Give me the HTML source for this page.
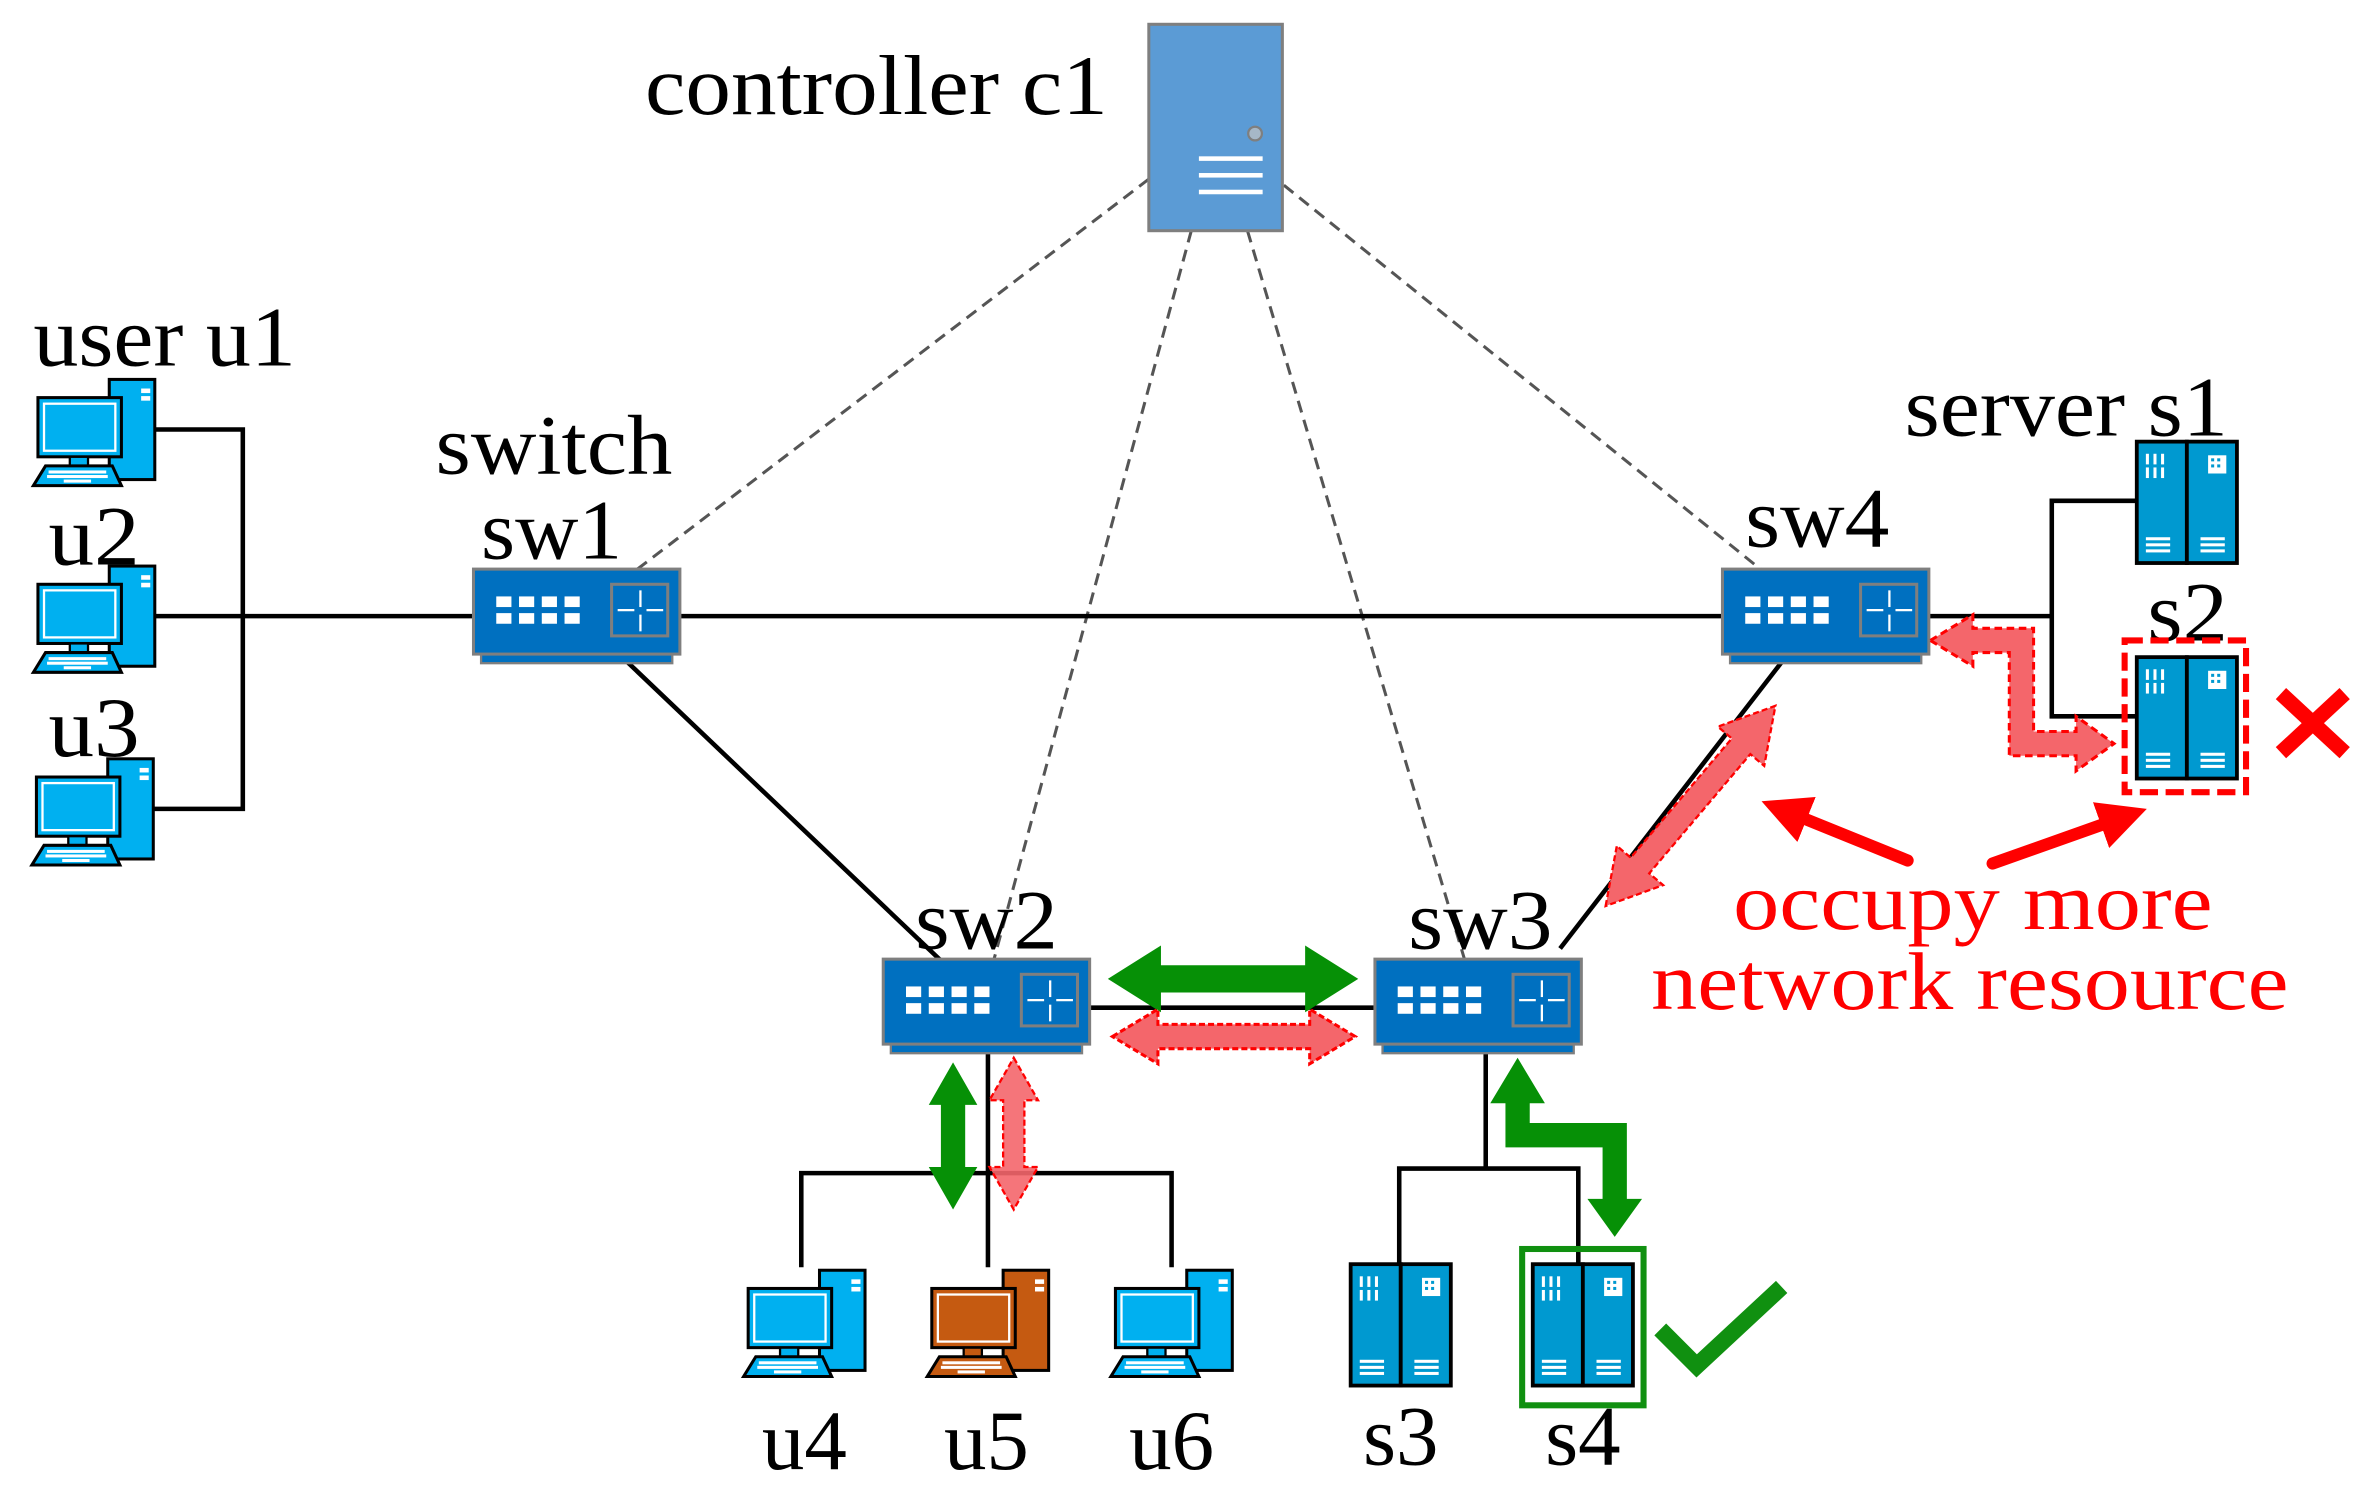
<!DOCTYPE html>
<html><head><meta charset="utf-8"><style>
html,body{margin:0;padding:0;background:#fff;}
svg{display:block;}
text{font-family:"Liberation Serif",serif;}
</style></head><body>
<svg width="2372" height="1507" viewBox="0 0 1563 993" xmlns="http://www.w3.org/2000/svg">
<defs>
<g id="pcbase">
  <rect x="50" y="0" width="30" height="66" stroke="#000" stroke-width="2"/>
  <rect x="71" y="6" width="6" height="3" fill="#fff"/>
  <rect x="71" y="11" width="6" height="3" fill="#fff"/>
  <rect x="3" y="12" width="55" height="39" stroke="#000" stroke-width="2"/>
  <rect x="7" y="16" width="47" height="31" fill="none" stroke="#fff" stroke-width="1.5"/>
  <rect x="24" y="51" width="12" height="6" stroke="#000" stroke-width="1.5"/>
  <polygon points="8,57 52,57 58,70 0,70" stroke="#000" stroke-width="2"/>
  <g fill="#fff"><rect x="10" y="60" width="38" height="2"/><rect x="9" y="63" width="40" height="2"/><rect x="20" y="66" width="18" height="2"/></g>
</g>
<g id="pc"><use href="#pcbase" fill="#00b0f0"/></g>
<g id="pco"><use href="#pcbase" fill="#c55a11"/></g>
<g id="srv">
  <rect x="0" y="0" width="33" height="80" fill="#0099d0" stroke="#000" stroke-width="2.5"/>
  <rect x="33" y="0" width="33" height="80" fill="#0099d0" stroke="#000" stroke-width="2.5"/>
  <g fill="#fff">
    <rect x="6" y="8" width="2" height="7"/><rect x="11" y="8" width="2" height="7"/><rect x="16" y="8" width="2" height="7"/>
    <rect x="6" y="17" width="2" height="7"/><rect x="11" y="17" width="2" height="7"/><rect x="16" y="17" width="2" height="7"/>
    <rect x="47" y="9" width="12" height="12"/>
    <rect x="6" y="63" width="16" height="2"/><rect x="6" y="67" width="16" height="2"/><rect x="6" y="71" width="16" height="2"/>
    <rect x="42" y="63" width="16" height="2"/><rect x="42" y="67" width="16" height="2"/><rect x="42" y="71" width="16" height="2"/>
  </g>
  <g fill="#0099d0"><rect x="49" y="11" width="2" height="2"/><rect x="53" y="11" width="2" height="2"/><rect x="49" y="15" width="2" height="2"/><rect x="53" y="15" width="2" height="2"/></g>
</g>
<g id="sw">
  <rect x="5" y="55" width="126" height="7" fill="#0070c0" stroke="#7f7f7f" stroke-width="1.5"/>
  <rect x="0" y="0" width="136" height="56" fill="#0070c0" stroke="#7f7f7f" stroke-width="2"/>
  <g fill="#fff">
    <rect x="15" y="18" width="10" height="7"/><rect x="30" y="18" width="10" height="7"/><rect x="45" y="18" width="10" height="7"/><rect x="60" y="18" width="10" height="7"/>
    <rect x="15" y="29" width="10" height="7"/><rect x="30" y="29" width="10" height="7"/><rect x="45" y="29" width="10" height="7"/><rect x="60" y="29" width="10" height="7"/>
  </g>
  <rect x="91" y="10" width="37" height="34" fill="none" stroke="#7f7f7f" stroke-width="2"/>
  <g stroke="#fff" stroke-width="1.5" fill="none">
    <line x1="110" y1="14" x2="110" y2="25"/><line x1="110" y1="30" x2="110" y2="41"/>
    <line x1="95" y1="27" x2="106" y2="27"/><line x1="114" y1="27" x2="125" y2="27"/>
  </g>
</g>
<marker id="ah" markerWidth="4" markerHeight="4" refX="1" refY="2" orient="auto" markerUnits="strokeWidth"><polygon points="0,0 4,2 0,4" fill="#f00"/></marker>
</defs>

<g stroke="#555" stroke-width="2" stroke-dasharray="8,5" fill="none">
  <line x1="757" y1="118" x2="420" y2="375"/>
  <line x1="785" y1="152" x2="655" y2="632"/>
  <line x1="822" y1="152" x2="965" y2="632"/>
  <line x1="846" y1="122" x2="1160" y2="375"/>
</g>

<rect x="757" y="16" width="88" height="136" fill="#5b9bd5" stroke="#7f7f7f" stroke-width="2"/>
<circle cx="827" cy="88" r="4.5" fill="#a6b8c8" stroke="#7f7f7f" stroke-width="1.5"/>
<g fill="#fff"><rect x="790" y="103" width="42" height="3"/><rect x="790" y="114" width="42" height="3"/><rect x="790" y="125" width="42" height="3"/></g>
<text x="425" y="75" font-size="56" textLength="305" lengthAdjust="spacingAndGlyphs">controller c1</text>

<g stroke="#000" stroke-width="3" fill="none">
  <polyline points="102,283 160,283 160,533 100,533"/>
  <line x1="102" y1="406" x2="312" y2="406"/>
  <line x1="446" y1="406" x2="1135" y2="406"/>
  <line x1="410" y1="433" x2="620" y2="633"/>
  <line x1="1175" y1="435" x2="1028" y2="625"/>
  <line x1="718" y1="664" x2="906" y2="664"/>
  <polyline points="1270,406 1352,406"/>
  <polyline points="1408,330 1352,330 1352,472 1408,472"/>
  <line x1="651" y1="688" x2="651" y2="835"/>
  <polyline points="528,835 528,773 772,773 772,835"/>
  <line x1="979" y1="688" x2="979" y2="770"/>
  <polyline points="922,833 922,770 1040,770 1040,833"/>
</g>
<use href="#pc" x="22" y="250"/>
<use href="#pc" x="22" y="373"/>
<use href="#pc" x="21" y="500"/>
<text x="22" y="241" font-size="56" textLength="173" lengthAdjust="spacingAndGlyphs">user u1</text>
<text x="32" y="372" font-size="56" textLength="60" lengthAdjust="spacingAndGlyphs">u2</text>
<text x="32" y="498" font-size="56" textLength="60" lengthAdjust="spacingAndGlyphs">u3</text>

<use href="#sw" x="312" y="375"/>
<use href="#sw" x="1135" y="375"/>
<use href="#sw" x="582" y="632"/>
<use href="#sw" x="906" y="632"/>
<text x="287" y="312" font-size="56" textLength="156" lengthAdjust="spacingAndGlyphs">switch</text>
<text x="317" y="368" font-size="56" textLength="93" lengthAdjust="spacingAndGlyphs">sw1</text>
<text x="1150" y="360" font-size="56" textLength="95" lengthAdjust="spacingAndGlyphs">sw4</text>
<text x="603" y="625" font-size="56" textLength="94" lengthAdjust="spacingAndGlyphs">sw2</text>
<text x="928" y="625" font-size="56" textLength="95" lengthAdjust="spacingAndGlyphs">sw3</text>

<text x="1255" y="287" font-size="56" textLength="213" lengthAdjust="spacingAndGlyphs">server s1</text>
<use href="#srv" x="1408" y="291"/>
<text x="1415" y="422" font-size="56" textLength="53" lengthAdjust="spacingAndGlyphs">s2</text>
<use href="#srv" x="1408" y="433"/>
<rect x="1400" y="422" width="80" height="100" fill="none" stroke="#f00" stroke-width="4" stroke-dasharray="12,5"/>
<g stroke="#f00" stroke-width="10"><line x1="1503" y1="457" x2="1545" y2="496"/><line x1="1545" y1="457" x2="1503" y2="496"/></g>

<use href="#pc" x="490" y="837"/>
<use href="#pco" x="611" y="837"/>
<use href="#pc" x="732" y="837"/>
<text x="530" y="968" font-size="56" text-anchor="middle">u4</text>
<text x="650" y="968" font-size="56" text-anchor="middle">u5</text>
<text x="772" y="968" font-size="56" text-anchor="middle">u6</text>
<use href="#srv" x="890" y="833"/>
<use href="#srv" x="1010" y="833"/>
<rect x="1003" y="823" width="80" height="103" fill="none" stroke="#109010" stroke-width="4"/>
<text x="923" y="965" font-size="56" text-anchor="middle">s3</text>
<text x="1043" y="965" font-size="56" text-anchor="middle">s4</text>
<polyline points="1094,876 1118,900 1174,848" fill="none" stroke="#109010" stroke-width="11"/>

<g transform="translate(730,645)"><polygon points="0,0 35,-22 35,-9 130,-9 130,-22 165,0 130,22 130,9 35,9 35,22" fill="#069006"/></g>
<g transform="translate(733,683)"><polygon points="0,0 30,-18 30,-8 130,-8 130,-18 160,0 130,18 130,8 30,8 30,18" fill="#f4666b" stroke="#f00" stroke-width="2" stroke-dasharray="4,2"/></g>
<g transform="translate(628,700) rotate(90)"><polygon points="0,0 28,-16 28,-8 69,-8 69,-16 97,0 69,16 69,8 28,8 28,16" fill="#069006"/></g>
<g transform="translate(668,697) rotate(90)"><polygon points="0,0 28,-16 28,-7 72,-7 72,-16 100,0 72,16 72,7 28,7 28,16" fill="#f4666b" fill-opacity="0.9" stroke="#f00" stroke-width="1.5" stroke-dasharray="4,2"/></g>
<g transform="translate(1058,597) rotate(-49.7)"><polygon points="0,0 35,-20 35,-8 138,-8 138,-20 173,0 138,20 138,8 35,8 35,20" fill="#f4666b" stroke="#f00" stroke-width="1.5" stroke-dasharray="4,2"/></g>
<polygon points="1000,697 1018,727 1008,727 1008,740 1072,740 1072,790 1082,790 1064,815 1046,790 1056,790 1056,756 992,756 992,727 982,727" fill="#069006"/>
<polygon points="1272,422 1300,405 1300,414 1340,414 1340,482 1368,482 1368,472 1393,490 1368,508 1368,498 1324,498 1324,430 1300,430 1300,439" fill="#f4666b" stroke="#f00" stroke-width="2" stroke-dasharray="5,3"/>
<g stroke="#f00" stroke-width="8" stroke-linecap="round">
  <line x1="1257" y1="567" x2="1183" y2="537" marker-end="url(#ah)"/>
  <line x1="1313" y1="569" x2="1392" y2="541" marker-end="url(#ah)"/>
</g>
<text x="1142" y="612" font-size="54" fill="#f00" textLength="316" lengthAdjust="spacingAndGlyphs">occupy more</text>
<text x="1088" y="665" font-size="54" fill="#f00" textLength="420" lengthAdjust="spacingAndGlyphs">network resource</text>
</svg>
</body></html>
